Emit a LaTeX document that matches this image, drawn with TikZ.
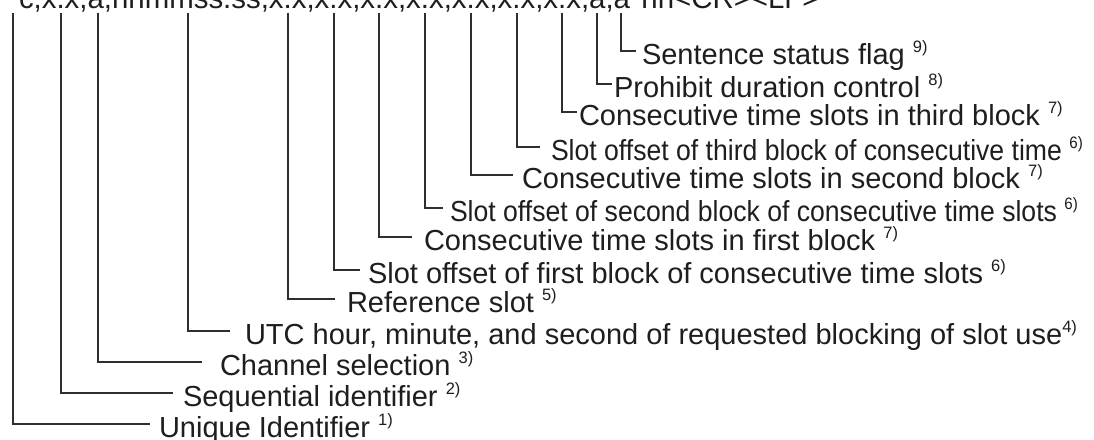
\documentclass[tikz,border=0pt]{standalone}
\usepackage{fontspec}
\setmainfont{Liberation Sans}
\definecolor{ink}{HTML}{1E1E1E}
\definecolor{wire}{HTML}{2E2E2E}
\newcommand\supn[1]{\raisebox{12.5pt}{\fontsize{16.5}{17}\selectfont #1}}
\newcommand\narrowtext[1]{\scalebox{0.917}[1]{#1}}
\tikzset{
  lab/.style={anchor=base west, inner sep=0pt, outer sep=0pt, text=ink, font=\fontsize{29}{30}\selectfont},
  head/.style={anchor=base west, inner sep=0pt, outer sep=0pt, text=ink, font=\fontsize{29.4}{30}\selectfont},
  wirestyle/.style={draw=wire, line width=1.2pt}
}
\begin{document}
\begin{tikzpicture}[x=1pt,y=-1pt]
\useasboundingbox (0,0) rectangle (1094,439);
\clip (0,0) rectangle (1094,439);
\node[head] (hdr) at (19,9) {c,x.x,a,hhmmss.ss,x.x,x.x,x.x,x.x,x.x,x.x,x.x,a,a*hh<CR><LF>};
% tops of the field markers
\coordinate (t1) at (13,12.5);
\coordinate (t2) at (61,12.5);
\coordinate (t3) at (98,12.5);
\coordinate (t4) at (188,12.5);
\coordinate (t5) at (288,12.5);
\coordinate (t6) at (334,12.5);
\coordinate (t7) at (379,12.5);
\coordinate (t8) at (425,12.5);
\coordinate (t9) at (471,12.5);
\coordinate (t10) at (517,12.5);
\coordinate (t11) at (562,12.5);
\coordinate (t12) at (597,12.5);
\coordinate (t13) at (621,12.5);
% labels (base line = wire y + 13.5)
\node[lab] (l13) at (642,64.5) {Sentence status flag \supn{9)}};
\node[lab] (l12) at (614,97.5) {Prohibit duration control \supn{8)}};
\node[lab] (l11) at (579,125.5) {Consecutive time slots in third block \supn{7)}};
\node[lab] (l10) at (551,160.5) {\narrowtext{Slot offset of third block of consecutive time \supn{6)}}};
\node[lab] (l9) at (522,188.5) {Consecutive time slots in second block \supn{7)}};
\node[lab] (l8) at (450,221.5) {\narrowtext{Slot offset of second block of consecutive time slots \supn{6)}}};
\node[lab] (l7) at (424,250.5) {Consecutive time slots in first block \supn{7)}};
\node[lab] (l6) at (368,283.5) {Slot offset of first block of consecutive time slots \supn{6)}};
\node[lab] (l5) at (347,312.5) {Reference slot \supn{5)}};
\node[lab] (l4) at (245,344.5) {UTC hour, minute, and second of requested blocking of slot use\supn{4)}};
\node[lab] (l3) at (220,375.5) {Channel selection \supn{3)}};
\node[lab] (l2) at (183,406.5) {Sequential identifier \supn{2)}};
\node[lab] (l1) at (159,437.5) {Unique Identifier \supn{1)}};
% connectors
\draw[wirestyle] (t13) |- ([shift={(-6,-13.5)}]l13.base west);
\draw[wirestyle] (t12) |- ([shift={(-2,-13.5)}]l12.base west);
\draw[wirestyle] (t11) |- ([shift={(-2,-13.5)}]l11.base west);
\draw[wirestyle] (t10) |- ([shift={(-11,-13.5)}]l10.base west);
\draw[wirestyle] (t9) |- ([shift={(-9,-13.5)}]l9.base west);
\draw[wirestyle] (t8) |- ([shift={(-7,-13.5)}]l8.base west);
\draw[wirestyle] (t7) |- ([shift={(-12,-13.5)}]l7.base west);
\draw[wirestyle] (t6) |- ([shift={(-8,-13.5)}]l6.base west);
\draw[wirestyle] (t5) |- ([shift={(-12,-13.5)}]l5.base west);
\draw[wirestyle] (t4) |- ([shift={(-15,-13.5)}]l4.base west);
\draw[wirestyle] (t3) |- ([shift={(-18,-13.5)}]l3.base west);
\draw[wirestyle] (t2) |- ([shift={(-10,-13.5)}]l2.base west);
\draw[wirestyle] (t1) |- ([shift={(-9,-13.5)}]l1.base west);
\end{tikzpicture}
\end{document}
